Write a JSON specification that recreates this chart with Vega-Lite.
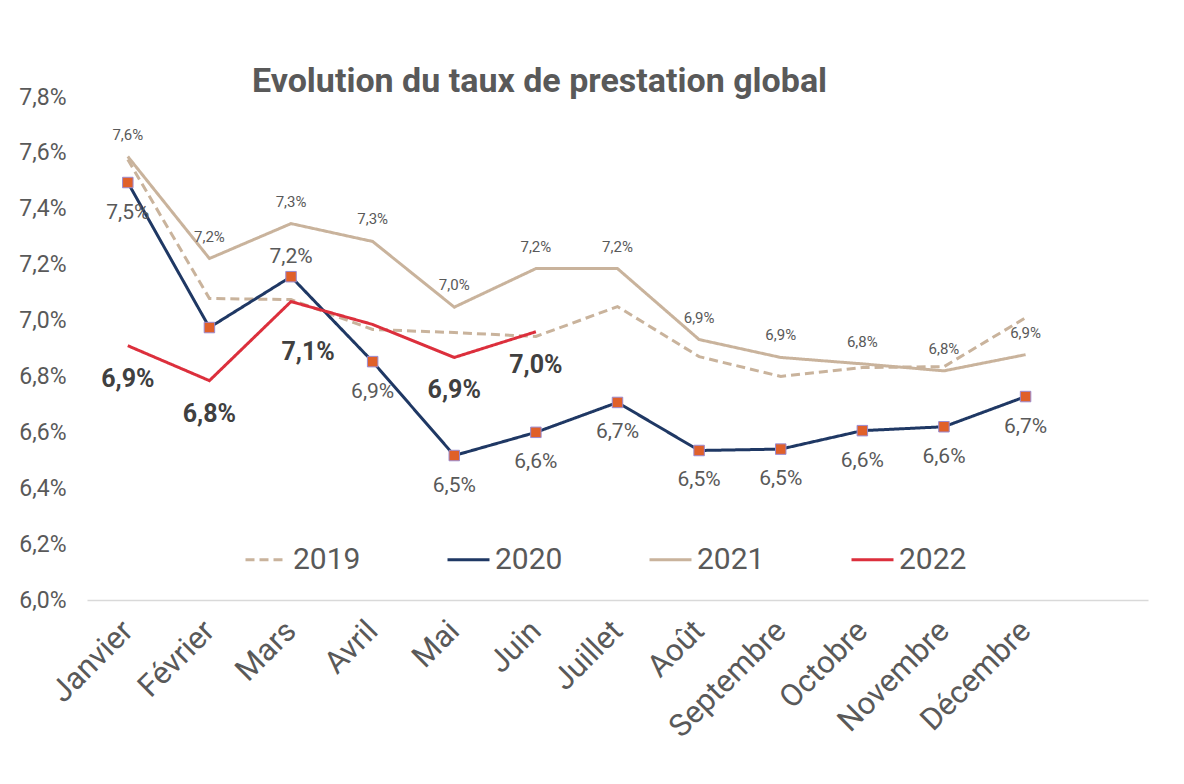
{
  "$schema": "https://vega.github.io/schema/vega-lite/v6.json",
  "width": 1061,
  "height": 503,
  "autosize": {"type": "none"},
  "padding": {"left": 87, "top": 97, "right": 36, "bottom": 184},
  "background": "white",
  "title": {
    "text": "Evolution du taux de prestation global",
    "anchor": "start",
    "frame": "group",
    "dx": 165,
    "offset": -13,
    "fontSize": 34,
    "fontWeight": "bold",
    "color": "#595959",
    "font": "Roboto, sans-serif"
  },
  "config": {
    "view": {"stroke": null},
    "font": "Roboto, sans-serif"
  },
  "data": {
    "values": [
      {"mois": "Janvier", "annee": "2019", "v": 7.576},
      {"mois": "Février", "annee": "2019", "v": 7.079},
      {"mois": "Mars", "annee": "2019", "v": 7.075},
      {"mois": "Avril", "annee": "2019", "v": 6.968},
      {"mois": "Mai", "annee": "2019", "v": 6.957},
      {"mois": "Juin", "annee": "2019", "v": 6.943},
      {"mois": "Juillet", "annee": "2019", "v": 7.05},
      {"mois": "Août", "annee": "2019", "v": 6.871},
      {"mois": "Septembre", "annee": "2019", "v": 6.8},
      {"mois": "Octobre", "annee": "2019", "v": 6.832},
      {"mois": "Novembre", "annee": "2019", "v": 6.835},
      {"mois": "Décembre", "annee": "2019", "v": 7.01},
      {"mois": "Janvier", "annee": "2021", "v": 7.587},
      {"mois": "Février", "annee": "2021", "v": 7.222},
      {"mois": "Mars", "annee": "2021", "v": 7.347},
      {"mois": "Avril", "annee": "2021", "v": 7.283},
      {"mois": "Mai", "annee": "2021", "v": 7.048},
      {"mois": "Juin", "annee": "2021", "v": 7.186},
      {"mois": "Juillet", "annee": "2021", "v": 7.186},
      {"mois": "Août", "annee": "2021", "v": 6.932},
      {"mois": "Septembre", "annee": "2021", "v": 6.868},
      {"mois": "Octobre", "annee": "2021", "v": 6.845},
      {"mois": "Novembre", "annee": "2021", "v": 6.82},
      {"mois": "Décembre", "annee": "2021", "v": 6.878},
      {"mois": "Janvier", "annee": "2020", "v": 7.494},
      {"mois": "Février", "annee": "2020", "v": 6.975},
      {"mois": "Mars", "annee": "2020", "v": 7.157},
      {"mois": "Avril", "annee": "2020", "v": 6.853},
      {"mois": "Mai", "annee": "2020", "v": 6.517},
      {"mois": "Juin", "annee": "2020", "v": 6.6},
      {"mois": "Juillet", "annee": "2020", "v": 6.707},
      {"mois": "Août", "annee": "2020", "v": 6.535},
      {"mois": "Septembre", "annee": "2020", "v": 6.54},
      {"mois": "Octobre", "annee": "2020", "v": 6.606},
      {"mois": "Novembre", "annee": "2020", "v": 6.62},
      {"mois": "Décembre", "annee": "2020", "v": 6.728},
      {"mois": "Janvier", "annee": "2022", "v": 6.91},
      {"mois": "Février", "annee": "2022", "v": 6.785},
      {"mois": "Mars", "annee": "2022", "v": 7.068},
      {"mois": "Avril", "annee": "2022", "v": 6.986},
      {"mois": "Mai", "annee": "2022", "v": 6.868},
      {"mois": "Juin", "annee": "2022", "v": 6.96}
    ]
  },
  "transform": [
    {"calculate": "replace(format(datum.v, '.1f'), '.', ',') + '%'", "as": "label"}
  ],
  "encoding": {
    "x": {
      "field": "mois",
      "type": "ordinal",
      "scale": {"domain": ["Janvier", "Février", "Mars", "Avril", "Mai", "Juin", "Juillet", "Août", "Septembre", "Octobre", "Novembre", "Décembre", " "], "padding": 0.5},
      "axis": {
        "title": null,
        "domain": true,
        "domainColor": "#d9d9d9",
        "domainWidth": 1.5,
        "ticks": false,
        "grid": false,
        "labelAngle": -45,
        "labelAlign": "right",
        "labelBaseline": "middle",
        "labelPadding": 26,
        "labelFontSize": 31,
        "labelColor": "#595959"
      }
    },
    "y": {
      "field": "v",
      "type": "quantitative",
      "scale": {"domain": [6.0, 7.8], "nice": false, "zero": false},
      "axis": {
        "title": null,
        "domain": false,
        "ticks": false,
        "grid": false,
        "values": [6.0, 6.2, 6.4, 6.6, 6.8, 7.0, 7.2, 7.4, 7.6, 7.8],
        "labelExpr": "replace(format(datum.value, '.1f'), '.', ',') + '%'",
        "labelFontSize": 23,
        "labelColor": "#595959",
        "labelPadding": 21
      }
    }
  },
  "layer": [
    {
      "mark": {"type": "line", "strokeWidth": 3},
      "encoding": {
        "color": {
          "field": "annee",
          "type": "nominal",
          "scale": {"domain": ["2019", "2020", "2021", "2022"], "range": ["#C9B39C", "#1F3864", "#C9B39C", "#DC2F3C"]},
          "legend": {
            "title": null,
            "orient": "none",
            "legendX": 157,
            "legendY": 440,
            "direction": "horizontal",
            "symbolType": "stroke",
            "symbolSize": 1764,
            "symbolStrokeWidth": 3,
            "labelFontSize": 30,
            "labelColor": "#595959",
            "labelOffset": 4,
            "columnPadding": 80
          }
        },
        "strokeDash": {
          "field": "annee",
          "type": "nominal",
          "scale": {"domain": ["2019", "2020", "2021", "2022"], "range": [[9, 5], [1, 0], [1, 0], [1, 0]]},
          "legend": {
            "title": null,
            "orient": "none",
            "legendX": 157,
            "legendY": 440,
            "direction": "horizontal",
            "symbolType": "stroke",
            "symbolSize": 1764,
            "symbolStrokeWidth": 3,
            "labelFontSize": 30,
            "labelColor": "#595959",
            "labelOffset": 4,
            "columnPadding": 80
          }
        }
      }
    },
    {
      "transform": [{"filter": "datum.annee == '2020'"}],
      "mark": {"type": "point", "shape": "square", "filled": true, "fill": "#E0602A", "stroke": "#9B8BD0", "strokeWidth": 1, "size": 110, "opacity": 1}
    },
    {
      "transform": [{"filter": "datum.annee == '2021'"}],
      "mark": {"type": "text", "dy": -22, "fontSize": 15, "color": "#595959"},
      "encoding": {"text": {"field": "label"}}
    },
    {
      "transform": [{"filter": "datum.annee == '2020' && datum.mois != 'Février' && datum.mois != 'Mars'"}],
      "mark": {"type": "text", "dy": 30, "fontSize": 21, "color": "#595959"},
      "encoding": {"text": {"field": "label"}}
    },
    {
      "transform": [{"filter": "datum.annee == '2020' && datum.mois == 'Mars'"}],
      "mark": {"type": "text", "dy": -20, "fontSize": 21, "color": "#595959"},
      "encoding": {"text": {"field": "label"}}
    },
    {
      "transform": [{"filter": "datum.annee == '2022' && datum.mois != 'Mars' && datum.mois != 'Avril'"}],
      "mark": {"type": "text", "dy": 33, "fontSize": 25, "fontWeight": "bold", "color": "#404040"},
      "encoding": {"text": {"field": "label"}}
    },
    {
      "transform": [{"filter": "datum.annee == '2022' && datum.mois == 'Mars'"}],
      "mark": {"type": "text", "dx": 17, "dy": 50, "fontSize": 25, "fontWeight": "bold", "color": "#404040"},
      "encoding": {"text": {"field": "label"}}
    }
  ]
}
